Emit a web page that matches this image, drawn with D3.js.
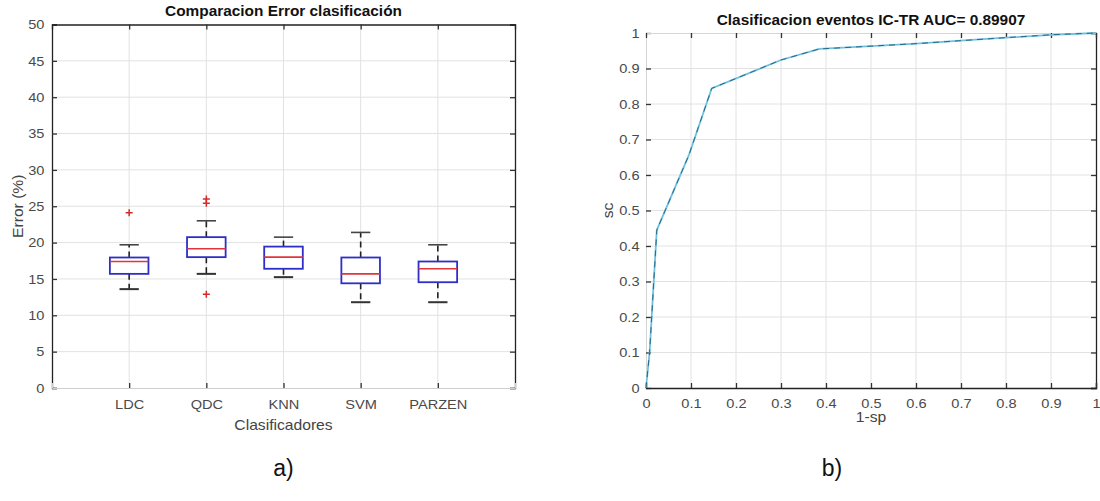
<!DOCTYPE html>
<html><head><meta charset="utf-8">
<script src="https://cdn.jsdelivr.net/npm/d3@7"></script>
<style>
body{margin:0;background:#fff}
svg{display:block}
text{font-family:"Liberation Sans",Arial,Helvetica,sans-serif}
</style>
</head><body>
<svg id="c" width="1100" height="501"></svg>
<script>
// ---------- data: left panel (boxplot of classification error) ----------
const categories = ["LDC", "QDC", "KNN", "SVM", "PARZEN"];
const boxQ1 = [15.7, 18.0, 16.4, 14.4, 14.55];
const boxMedian = [17.4, 19.15, 18.0, 15.7, 16.4];
const boxQ3 = [17.95, 20.75, 19.45, 17.95, 17.4];
const whiskerLow = [13.6, 15.7, 15.25, 11.8, 11.8];
const whiskerHigh = [19.7, 23.0, 20.75, 21.4, 19.7];
const outliers = [[24.1], [26.0, 25.4, 12.9], [], [], []];
const errorTicks = [0, 5, 10, 15, 20, 25, 30, 35, 40, 45, 50];

// ---------- data: right panel (ROC curve) ----------
const rocFpr = [0, 0.008, 0.024, 0.095, 0.146, 0.3, 0.385, 0.5, 0.6, 0.79, 0.9, 1];
const rocTpr = [0, 0.1, 0.445, 0.655, 0.844, 0.924, 0.955, 0.963, 0.97, 0.986, 0.995, 1];
const rocTicks = [0, 0.1, 0.2, 0.3, 0.4, 0.5, 0.6, 0.7, 0.8, 0.9, 1];

const leftTitle = "Comparacion Error clasificación";
const rightTitle = "Clasificacion eventos IC-TR AUC= 0.89907";

const svg = d3.select("#c");
const gridColor = "#e2e2e2";
const tickTextColor = "#4a4a4a";
const SX = 1.08; // slight horizontal stretch of the original raster text

function stretchText(sel, s) { sel.attr("transform", `scale(${s || SX},1)`); }

// =============== LEFT PANEL ===============
const L = {x0: 52, x1: 515, y0: 388, y1: 24.5};
const xL = d3.scaleLinear().domain([0, categories.length + 1]).range([L.x0, L.x1]);
const yL = d3.scaleLinear().domain([0, 50]).range([L.y0, L.y1]);
const gL = svg.append("g");

// grid
gL.append("g").selectAll("line").data(errorTicks.filter(d => d > 0 && d < 50)).join("line")
  .attr("x1", L.x0).attr("x2", L.x1).attr("y1", d => yL(d)).attr("y2", d => yL(d))
  .attr("stroke", gridColor).attr("stroke-width", 1);
gL.append("g").selectAll("line").data(categories).join("line")
  .attr("x1", (d, i) => xL(i + 1)).attr("x2", (d, i) => xL(i + 1))
  .attr("y1", L.y0).attr("y2", L.y1)
  .attr("stroke", gridColor).attr("stroke-width", 1);

// axes (inward ticks)
const yAxisL = d3.axisLeft(yL).tickValues(errorTicks).tickFormat(d => String(d)).tickSize(-5).tickPadding(7);
const gyL = gL.append("g").attr("transform", `translate(${L.x0},0)`).call(yAxisL);
const yAxisLR = d3.axisRight(yL).tickValues(errorTicks).tickFormat("").tickSize(-5);
const gyLR = gL.append("g").attr("transform", `translate(${L.x1},0)`).call(yAxisLR);
const xAxisL = d3.axisBottom(xL).tickValues(categories.map((d, i) => i + 1))
  .tickFormat(d => categories[d - 1]).tickSize(-5).tickPadding(11);
const gxL = gL.append("g").attr("transform", `translate(0,${L.y0})`).call(xAxisL);
const xAxisLT = d3.axisTop(xL).tickValues(categories.map((d, i) => i + 1)).tickFormat("").tickSize(-5);
const gxLT = gL.append("g").attr("transform", `translate(0,${L.y1})`).call(xAxisLT);

[gyL, gyLR, gxL, gxLT].forEach(g => {
  g.selectAll(".tick line").attr("stroke", "#333").attr("stroke-width", 1.3);
  g.selectAll("text").attr("fill", tickTextColor).attr("font-size", 13.5).call(stretchText);
});
gyL.select(".domain").attr("stroke", "#222").attr("stroke-width", 1.3);
gyLR.select(".domain").attr("stroke", "#222").attr("stroke-width", 1.3);
gxLT.select(".domain").attr("stroke", "#222").attr("stroke-width", 1.3);
gxL.select(".domain").attr("stroke", "#cfcfcf").attr("stroke-width", 1);

// boxes
const half = 0.25, capHalf = 0.125;
const boxes = gL.append("g").selectAll("g").data(categories).join("g");
// whiskers (dashed)
boxes.append("line")
  .attr("x1", (d, i) => xL(i + 1)).attr("x2", (d, i) => xL(i + 1))
  .attr("y1", (d, i) => yL(boxQ3[i])).attr("y2", (d, i) => yL(whiskerHigh[i]))
  .attr("stroke", "#222").attr("stroke-width", 1.6).attr("stroke-dasharray", "6,4");
boxes.append("line")
  .attr("x1", (d, i) => xL(i + 1)).attr("x2", (d, i) => xL(i + 1))
  .attr("y1", (d, i) => yL(boxQ1[i])).attr("y2", (d, i) => yL(whiskerLow[i]))
  .attr("stroke", "#222").attr("stroke-width", 1.6).attr("stroke-dasharray", "6,4");
// caps
boxes.append("line")
  .attr("x1", (d, i) => xL(i + 1 - capHalf)).attr("x2", (d, i) => xL(i + 1 + capHalf))
  .attr("y1", (d, i) => yL(whiskerHigh[i])).attr("y2", (d, i) => yL(whiskerHigh[i]))
  .attr("stroke", "#444").attr("stroke-width", 1.6);
boxes.append("line")
  .attr("x1", (d, i) => xL(i + 1 - capHalf)).attr("x2", (d, i) => xL(i + 1 + capHalf))
  .attr("y1", (d, i) => yL(whiskerLow[i])).attr("y2", (d, i) => yL(whiskerLow[i]))
  .attr("stroke", "#333").attr("stroke-width", 2);
// box
boxes.append("rect")
  .attr("x", (d, i) => xL(i + 1 - half)).attr("width", (d, i) => xL(i + 1 + half) - xL(i + 1 - half))
  .attr("y", (d, i) => yL(boxQ3[i])).attr("height", (d, i) => yL(boxQ1[i]) - yL(boxQ3[i]))
  .attr("fill", "#fff").attr("stroke", "#2e2ec8").attr("stroke-width", 1.8);
// median
boxes.append("line")
  .attr("x1", (d, i) => xL(i + 1 - half)).attr("x2", (d, i) => xL(i + 1 + half))
  .attr("y1", (d, i) => yL(boxMedian[i])).attr("y2", (d, i) => yL(boxMedian[i]))
  .attr("stroke", "#e0363a").attr("stroke-width", 1.6);
// outliers '+'
boxes.each(function (d, i) {
  d3.select(this).selectAll("path.out").data(outliers[i]).join("path").attr("class", "out")
    .attr("d", v => {
      const cx = xL(i + 1), cy = yL(v), r = 3.5;
      return `M${cx - r},${cy}H${cx + r}M${cx},${cy - r}V${cy + r}`;
    })
    .attr("stroke", "#d42a2a").attr("stroke-width", 1.5).attr("fill", "none");
});

// labels
gL.append("text").attr("transform", `translate(${(L.x0 + L.x1) / 2},16) scale(1.1,1)`)
  .attr("text-anchor", "middle").attr("font-weight", "bold").attr("font-size", 14).attr("fill", "#111")
  .text(leftTitle);
gL.append("text").attr("transform", `translate(${(L.x0 + L.x1) / 2},430) scale(1.08,1)`)
  .attr("text-anchor", "middle").attr("font-size", 14.5).attr("fill", "#444").text("Clasificadores");
gL.append("text").attr("transform", `translate(23,${(L.y0 + L.y1) / 2}) rotate(-90) scale(1.08,1)`)
  .attr("text-anchor", "middle").attr("font-size", 14.5).attr("fill", "#444").text("Error (%)");

// =============== RIGHT PANEL ===============
const R = {x0: 646, x1: 1096, y0: 388, y1: 33};
const xR = d3.scaleLinear().domain([0, 1]).range([R.x0, R.x1]);
const yR = d3.scaleLinear().domain([0, 1]).range([R.y0, R.y1]);
const gR = svg.append("g");

gR.append("g").selectAll("line").data(rocTicks.filter(d => d > 0 && d < 1)).join("line")
  .attr("x1", R.x0).attr("x2", R.x1).attr("y1", d => yR(d)).attr("y2", d => yR(d))
  .attr("stroke", gridColor);
gR.append("g").selectAll("line").data(rocTicks.filter(d => d > 0 && d < 1)).join("line")
  .attr("y1", R.y0).attr("y2", R.y1).attr("x1", d => xR(d)).attr("x2", d => xR(d))
  .attr("stroke", gridColor);

const fmt = d => String(d);
const gyR = gR.append("g").attr("transform", `translate(${R.x0},0)`)
  .call(d3.axisLeft(yR).tickValues(rocTicks).tickFormat(fmt).tickSize(-5).tickPadding(6));
const gyRR = gR.append("g").attr("transform", `translate(${R.x1},0)`)
  .call(d3.axisRight(yR).tickValues(rocTicks).tickFormat("").tickSize(-5));
const gxR = gR.append("g").attr("transform", `translate(0,${R.y0})`)
  .call(d3.axisBottom(xR).tickValues(rocTicks).tickFormat(fmt).tickSize(-5).tickPadding(10));
const gxRT = gR.append("g").attr("transform", `translate(0,${R.y1})`)
  .call(d3.axisTop(xR).tickValues(rocTicks).tickFormat("").tickSize(-5));
[gyR, gyRR, gxR, gxRT].forEach(g => {
  g.selectAll(".tick line").attr("stroke", "#333").attr("stroke-width", 1.3);
  g.selectAll("text").attr("fill", tickTextColor).attr("font-size", 13.5).call(stretchText);
});
gyR.select(".domain").attr("stroke", "#d6d6d6");
gxRT.select(".domain").attr("stroke", "#d6d6d6");
gyRR.select(".domain").attr("stroke", "#222").attr("stroke-width", 1.3);
gxR.select(".domain").attr("stroke", "#222").attr("stroke-width", 1.3);

// ROC line
const rocData = rocFpr.map((f, i) => [f, rocTpr[i]]);
const line = d3.line().x(d => xR(d[0])).y(d => yR(d[1]));
gR.append("path").datum(rocData).attr("d", line)
  .attr("fill", "none").attr("stroke", "#6cc2e0").attr("stroke-width", 1.8);
gR.append("path").datum(rocData).attr("d", line)
  .attr("fill", "none").attr("stroke", "#2c6684").attr("stroke-width", 1).attr("stroke-dasharray", "6,5");

gR.append("text").attr("transform", `translate(${(R.x0 + R.x1) / 2},25) scale(1.1,1)`)
  .attr("text-anchor", "middle").attr("font-weight", "bold").attr("font-size", 14).attr("fill", "#111")
  .text(rightTitle);
gR.append("text").attr("transform", `translate(${(R.x0 + R.x1) / 2},422) scale(1.08,1)`)
  .attr("text-anchor", "middle").attr("font-size", 14.5).attr("fill", "#444").text("1-sp");
gR.append("text").attr("transform", `translate(613,${(R.y0 + R.y1) / 2}) rotate(-90) scale(1.08,1)`)
  .attr("text-anchor", "middle").attr("font-size", 14.5).attr("fill", "#444").text("sc");

// panel captions
svg.append("text").attr("x", (L.x0 + L.x1) / 2).attr("y", 476).attr("text-anchor", "middle")
  .attr("font-size", 23).attr("fill", "#111").text("a)");
svg.append("text").attr("x", 832).attr("y", 476).attr("text-anchor", "middle")
  .attr("font-size", 23).attr("fill", "#111").text("b)");
</script>
</body></html>
